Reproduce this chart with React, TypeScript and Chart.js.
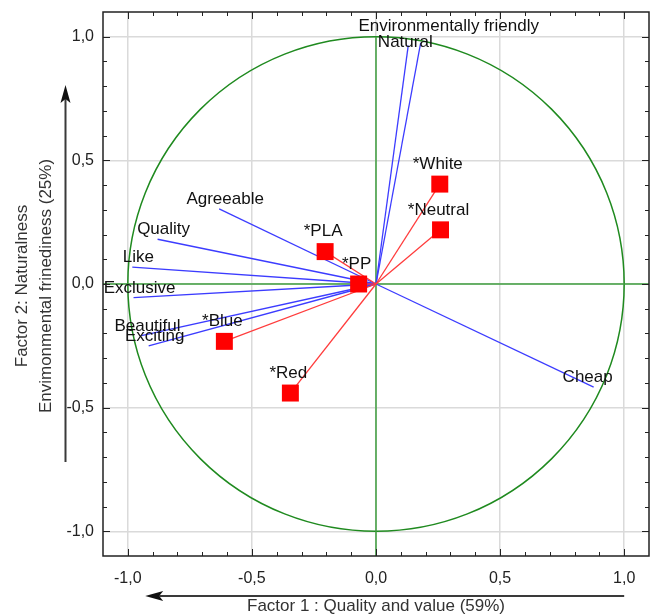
import React, { useEffect, useRef } from "react";
import { Chart, registerables } from "chart.js";

Chart.register(...registerables);

// ---- Data ----
const variableNames = [
  "Environmentally friendly",
  "Natural",
  "Agreeable",
  "Quality",
  "Like",
  "Exclusive",
  "Beautiful",
  "Exciting",
  "Cheap",
];
const variableX = [0.18, 0.13, -0.632, -0.88, -0.982, -0.977, -0.945, -0.916, 0.877];
const variableY = [0.975, 0.965, 0.304, 0.181, 0.068, -0.055, -0.209, -0.25, -0.417];

const caseNames = ["*White", "*Neutral", "*PLA", "*PP", "*Blue", "*Red"];
const caseX = [0.257, 0.26, -0.205, -0.07, -0.611, -0.345];
const caseY = [0.404, 0.219, 0.131, 0.0, -0.232, -0.441];

const tickValues = [-1, -0.5, 0, 0.5, 1];
const axisMin = -1.1;
const axisMax = 1.1;

const xTitle = "Factor 1 : Quality and value (59%)";
const yTitleLines = ["Factor 2: Naturalness", "Envimonmental frinediness (25%)"];

// label nudges (pixels) for labels that were moved apart in the original
const LABEL_NUDGE: Record<string, [number, number]> = {
  "Environmentally friendly": [28, -17],
  Natural: [-3, -3],
};

const FONT = "'Liberation Sans', Arial, Helvetica, sans-serif";
const fmt = (v: number) => Number(v).toFixed(1).replace(".", ",");

const resetPadding = (s: any) => {
  s.paddingLeft = 0;
  s.paddingRight = 0;
  s.paddingTop = 0;
  s.paddingBottom = 0;
};

export default function App() {
  const ref = useRef<HTMLCanvasElement>(null);

  useEffect(() => {
    const canvas = ref.current;
    if (!canvas) return;
    const origin = { x: 0, y: 0 };
    const datasets: any[] = [];

    datasets.push({
      label: "cases",
      data: caseX.map((x, i) => ({ x, y: caseY[i] })),
      pointStyle: "rect",
      pointRadius: 12,
      pointBackgroundColor: "#ff0000",
      pointBorderWidth: 0,
      showLine: false,
      order: 0,
    });
    caseX.forEach((x, i) =>
      datasets.push({
        label: caseNames[i] + " vector",
        data: [origin, { x, y: caseY[i] }],
        showLine: true,
        borderColor: "#ff3c3c",
        borderWidth: 1.3,
        pointRadius: 0,
        order: 1,
      })
    );
    variableX.forEach((x, i) =>
      datasets.push({
        label: variableNames[i],
        data: [origin, { x, y: variableY[i] }],
        showLine: true,
        borderColor: "#3c3cff",
        borderWidth: 1.3,
        pointRadius: 0,
        order: 2,
      })
    );
    datasets.push({
      label: "h axis",
      data: [
        { x: axisMin, y: 0 },
        { x: axisMax, y: 0 },
      ],
      showLine: true,
      borderColor: "#3f9f3f",
      borderWidth: 1.5,
      pointRadius: 0,
      order: 3,
    });
    datasets.push({
      label: "v axis",
      data: [
        { x: 0, y: 1 },
        { x: 0, y: axisMin },
      ],
      showLine: true,
      borderColor: "#3f9f3f",
      borderWidth: 1.5,
      pointRadius: 0,
      order: 3,
    });

    const pcaPlugin = {
      id: "pcaPlugin",
      beforeDatasetsDraw(chart: any) {
        const { ctx, scales } = chart;
        const xs = scales.x;
        const ys = scales.y;
        const cx = xs.getPixelForValue(0);
        const cy = ys.getPixelForValue(0);
        const rx = xs.getPixelForValue(1) - cx;
        const ry = cy - ys.getPixelForValue(1);
        ctx.save();
        ctx.strokeStyle = "#1f8a1f";
        ctx.lineWidth = 1.5;
        ctx.beginPath();
        ctx.ellipse(cx, cy, rx, ry, 0, 0, Math.PI * 2);
        ctx.stroke();
        ctx.restore();
      },
      afterDatasetsDraw(chart: any) {
        const { ctx, scales, chartArea } = chart;
        const xs = scales.x;
        const ys = scales.y;
        ctx.save();
        ctx.beginPath();
        ctx.rect(chartArea.left, chartArea.top, chartArea.right - chartArea.left, chartArea.bottom - chartArea.top);
        ctx.clip();
        ctx.font = `17px ${FONT}`;
        ctx.fillStyle = "#111111";
        ctx.textAlign = "center";
        ctx.textBaseline = "middle";
        variableNames.forEach((name, i) => {
          const px = xs.getPixelForValue(variableX[i]);
          const py = ys.getPixelForValue(variableY[i]);
          const nudge = LABEL_NUDGE[name] || [variableX[i] < 0 ? 6 : -6, -9.5];
          ctx.fillText(name, px + nudge[0], py + nudge[1]);
        });
        caseNames.forEach((name, i) => {
          const px = xs.getPixelForValue(caseX[i]);
          const py = ys.getPixelForValue(caseY[i]);
          ctx.fillText(name, px - 2, py - 20);
        });
        ctx.restore();

        // frame and inner ticks
        ctx.save();
        ctx.strokeStyle = "#222222";
        ctx.lineWidth = 1.5;
        ctx.strokeRect(chartArea.left, chartArea.top, chartArea.right - chartArea.left, chartArea.bottom - chartArea.top);
        ctx.lineWidth = 1;
        ctx.beginPath();
        for (let k = -10; k <= 10; k++) {
          const v = k / 10;
          const len = k % 5 === 0 ? 7 : 4;
          const px = Math.round(xs.getPixelForValue(v)) + 0.5;
          const py = Math.round(ys.getPixelForValue(v)) + 0.5;
          ctx.moveTo(px, chartArea.bottom);
          ctx.lineTo(px, chartArea.bottom - len);
          ctx.moveTo(px, chartArea.top);
          ctx.lineTo(px, chartArea.top + len);
          ctx.moveTo(chartArea.left, py);
          ctx.lineTo(chartArea.left + len, py);
          ctx.moveTo(chartArea.right, py);
          ctx.lineTo(chartArea.right - len, py);
        }
        ctx.stroke();
        ctx.restore();
      },
      afterDraw(chart: any) {
        const { ctx, scales, chartArea } = chart;
        const xs = scales.x;
        const ys = scales.y;
        ctx.save();
        ctx.fillStyle = "#333333";
        ctx.strokeStyle = "#3a3a3a";
        ctx.font = `17px ${FONT}`;
        ctx.textAlign = "center";
        ctx.textBaseline = "middle";

        // x title + arrow (pointing left)
        const midX = xs.getPixelForValue(0);
        ctx.fillText(xTitle, midX, chartArea.bottom + 50);
        const ay = chartArea.bottom + 40;
        const ax1 = xs.getPixelForValue(1);
        const ax2 = xs.getPixelForValue(-0.93);
        ctx.lineWidth = 2;
        ctx.beginPath();
        ctx.moveTo(ax1, ay);
        ctx.lineTo(ax2 + 14, ay);
        ctx.stroke();
        ctx.fillStyle = "#111111";
        ctx.beginPath();
        ctx.moveTo(ax2, ay);
        ctx.lineTo(ax2 + 18, ay - 5);
        ctx.lineTo(ax2 + 14, ay);
        ctx.lineTo(ax2 + 18, ay + 5);
        ctx.closePath();
        ctx.fill();

        // y titles (rotated) + arrow (pointing up)
        const midY = ys.getPixelForValue(0) + 2;
        ctx.fillStyle = "#333333";
        ctx.save();
        ctx.translate(22, midY);
        ctx.rotate(-Math.PI / 2);
        ctx.fillText(yTitleLines[0], 0, 0);
        ctx.restore();
        ctx.save();
        ctx.translate(46, midY);
        ctx.rotate(-Math.PI / 2);
        ctx.fillText(yTitleLines[1], 0, 0);
        ctx.restore();

        const arx = 65.5;
        const ay1 = ys.getPixelForValue(-0.72);
        const ay2 = ys.getPixelForValue(0.805);
        ctx.beginPath();
        ctx.moveTo(arx, ay1);
        ctx.lineTo(arx, ay2 + 14);
        ctx.stroke();
        ctx.fillStyle = "#111111";
        ctx.beginPath();
        ctx.moveTo(arx, ay2);
        ctx.lineTo(arx - 5, ay2 + 18);
        ctx.lineTo(arx, ay2 + 14);
        ctx.lineTo(arx + 5, ay2 + 18);
        ctx.closePath();
        ctx.fill();
        ctx.restore();
      },
    };

    const tickFont = { family: FONT, size: 16 };
    const chart = new Chart(canvas, {
      type: "scatter",
      data: { datasets },
      options: {
        responsive: false,
        animation: false,
        devicePixelRatio: 1,
        events: [],
        layout: { autoPadding: false, padding: { left: 0, right: 2, top: 12, bottom: 0 } },
        plugins: {
          legend: { display: false },
          tooltip: { enabled: false },
        },
        scales: {
          x: {
            type: "linear",
            min: axisMin,
            max: axisMax,
            afterBuildTicks: (s: any) => {
              s.ticks = tickValues.map((value) => ({ value }));
            },
            afterFit: (s: any) => {
              s.height = 60;
              resetPadding(s);
            },
            grid: { color: "#dadada", lineWidth: 1.5, drawTicks: false },
            border: { display: false },
            ticks: {
              padding: 13,
              font: tickFont,
              color: "#222222",
              maxRotation: 0,
              autoSkip: false,
              callback: (v: any) => fmt(v),
            },
          },
          y: {
            type: "linear",
            min: axisMin,
            max: axisMax,
            afterBuildTicks: (s: any) => {
              s.ticks = tickValues.map((value) => ({ value }));
            },
            afterFit: (s: any) => {
              s.width = 103;
              resetPadding(s);
            },
            grid: { color: "#dadada", lineWidth: 1.5, drawTicks: false },
            border: { display: false },
            ticks: {
              padding: 9,
              font: tickFont,
              color: "#222222",
              autoSkip: false,
              callback: (v: any) => fmt(v),
            },
          },
        },
      },
      plugins: [pcaPlugin],
    } as any);

    return () => chart.destroy();
  }, []);

  return (
    <div style={{ position: "absolute", left: 0, top: 0, width: 651, height: 616, background: "#fff" }}>
      <canvas ref={ref} width={651} height={616} style={{ display: "block" }} />
    </div>
  );
}
